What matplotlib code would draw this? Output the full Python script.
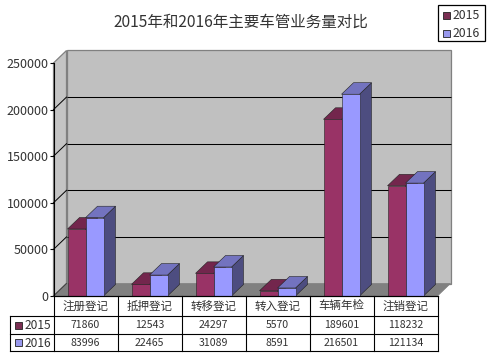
import matplotlib
matplotlib.use('Agg')
import matplotlib.pyplot as plt
from matplotlib.patches import Polygon, Rectangle

plt.rcParams['font.family'] = ['Noto Sans CJK SC', 'DejaVu Sans']

title = '2015年和2016年主要车管业务量对比'
categories = ['注册登记', '抵押登记', '转移登记', '转入登记', '车辆年检', '注销登记']
series_names = ['2015', '2016']
values_2015 = [71860, 12543, 24297, 5570, 189601, 118232]
values_2016 = [83996, 22465, 31089, 8591, 216501, 121134]
y_ticks = [0, 50000, 100000, 150000, 200000, 250000]

W, H = 492, 356
LEFT, RIGHT, TOP, BOTTOM = 53.5, 437.5, 63, 296
WALL_DX, WALL_DY = 13, 12.5
BAR_DX, BAR_DY = 12, 11.5

fig = plt.figure(figsize=(W / 100, H / 100), dpi=100, facecolor='white')
ax = fig.add_axes([LEFT / W, 1 - BOTTOM / H, (RIGHT - LEFT) / W, (BOTTOM - TOP) / H])
ax.patch.set_visible(False)
ax.set_xlim(0, len(categories))
ax.set_ylim(0, y_ticks[-1])

# pixels to data units, the depth offset is set in pixels
px_x = len(categories) / (RIGHT - LEFT)
px_y = y_ticks[-1] / (BOTTOM - TOP)
wall_x, wall_y = WALL_DX * px_x, WALL_DY * px_y
bar_x, bar_y = BAR_DX * px_x, BAR_DY * px_y
n = len(categories)
top = y_ticks[-1]


def poly(points, face, edge='none', lw=0.6, z=1):
    ax.add_patch(Polygon(points, closed=True, facecolor=face, edgecolor=edge,
                         linewidth=lw, zorder=z, clip_on=False))


# walls and floor
poly([(wall_x, wall_y), (n + wall_x, wall_y), (n + wall_x, top + wall_y), (wall_x, top + wall_y)],
     '#C0C0C0', '#808080', 0.9)
poly([(0, 0), (wall_x, wall_y), (wall_x, top + wall_y), (0, top)], '#C4C4C4', '#808080', 0.9)
poly([(0, 0), (n, 0), (n + wall_x, wall_y), (wall_x, wall_y)], '#808080', '#808080', 0.5)

for tick in y_ticks[1:-1]:
    ax.plot([wall_x, n + wall_x], [tick + wall_y] * 2, color='black', lw=0.75, zorder=2,
            clip_on=False, solid_capstyle='butt')
    ax.plot([0, wall_x], [tick, tick + wall_y], color='black', lw=0.7, zorder=2, clip_on=False)
ax.plot([0, wall_x], [0, wall_y], color='#404040', lw=0.7, zorder=2, clip_on=False)


def bar3d(x0, width, value, front, side, cap, z):
    x1 = x0 + width
    poly([(x1, 0), (x1 + bar_x, bar_y), (x1 + bar_x, value + bar_y), (x1, value)], side, '#222222', 0.4, z)
    poly([(x0, value), (x1, value), (x1 + bar_x, value + bar_y), (x0 + bar_x, value + bar_y)], cap, '#222222', 0.4, z)
    poly([(x0, 0), (x1, 0), (x1, value), (x0, value)], front, '#222222', 0.4, z + 0.1)


BAR_W = 18 / 64
OFFSET = 14 / 64
for i in range(n):
    bar3d(i + OFFSET, BAR_W, values_2015[i], '#993366', '#66223F', '#73264D', 3 + i)
    bar3d(i + OFFSET + BAR_W, BAR_W, values_2016[i], '#9999FF', '#4D4D80', '#7373BF', 3.3 + i)

ax.set_yticks(y_ticks)
ax.set_yticklabels([str(t) for t in y_ticks], fontsize=9, color='#333333')
ax.set_xticks([])
ax.tick_params(axis='y', length=3, width=0.8, pad=0.5, color='black')
for name in ('top', 'right'):
    ax.spines[name].set_visible(False)
for name in ('left', 'bottom'):
    ax.spines[name].set_linewidth(0.8)
    ax.spines[name].set_zorder(20)

# overlay in pixel coords for title, table and legend
ov = fig.add_axes([0, 0, 1, 1], zorder=5)
ov.set_xlim(0, W)
ov.set_ylim(H, 0)
ov.axis('off')

ov.text(241, 22, title, fontsize=11.2, ha='center', va='center', color='#333333')

col_w = (RIGHT - LEFT) / n
rows = [296, 315.7, 334.3, 351]
TABLE_LEFT = 9.5


def line(xs, ys, lw=0.8):
    ov.plot(xs, ys, color='black', lw=lw, solid_capstyle='projecting')


for y in rows[:1]:
    line([LEFT, RIGHT], [y, y])
for y in rows[1:]:
    line([TABLE_LEFT, RIGHT], [y, y])
for i in range(n + 1):
    line([LEFT + i * col_w] * 2, [rows[0], rows[-1]])
line([TABLE_LEFT, TABLE_LEFT], [rows[1], rows[-1]])

for i in range(n):
    cx = LEFT + (i + 0.5) * col_w
    ov.text(cx, 306, categories[i], fontsize=8.3, ha='center', va='center', color='#333333')
    ov.text(cx, 325.5, str(values_2015[i]), fontsize=7.6, ha='center', va='center', color='#333333')
    ov.text(cx, 343, str(values_2016[i]), fontsize=7.6, ha='center', va='center', color='#333333')

swatches = ['#7A2E52', '#9999EE']
for name, color, y in zip(series_names, swatches, [(rows[1] + rows[2]) / 2, (rows[2] + rows[3]) / 2]):
    ov.add_patch(Rectangle((15, y - 3.5), 7, 7, facecolor=color, edgecolor='#222222', lw=0.6))
    ov.text(24.5, y + 0.5, name, fontsize=8.6, ha='left', va='center', color='#333333')

# legend box
ov.add_patch(Rectangle((437.5, 5.3), 47, 36, facecolor='white', edgecolor='black', lw=0.9))
for name, color, y in zip(series_names, swatches, [15.5, 33.5]):
    ov.add_patch(Rectangle((442.5, y - 3.5), 7, 7, facecolor=color, edgecolor='#222222', lw=0.6))
    ov.text(453, y, name, fontsize=8.8, ha='left', va='center', color='#333333')

fig.savefig('out.png', dpi=100)
